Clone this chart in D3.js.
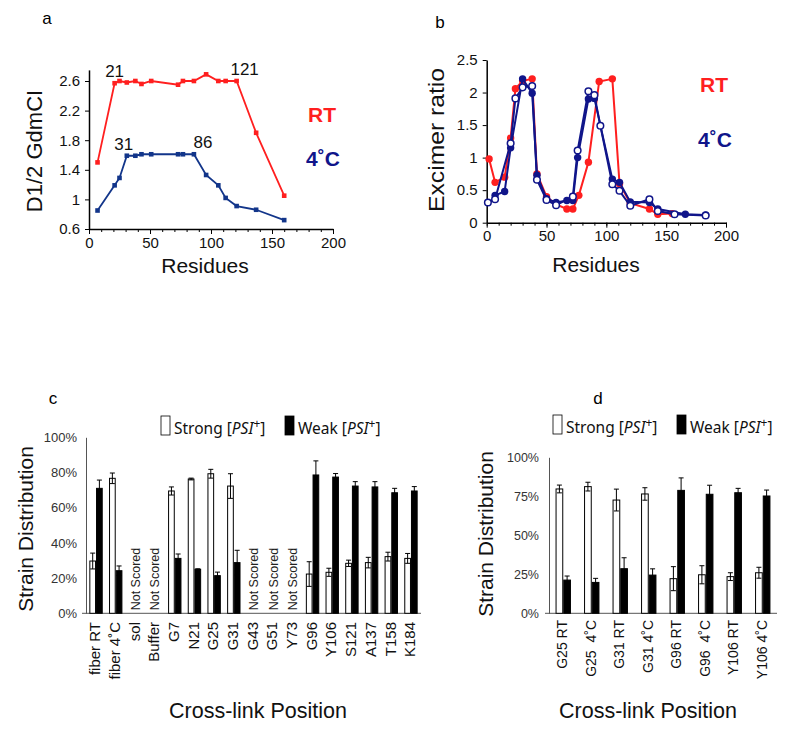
<!DOCTYPE html>
<html><head><meta charset="utf-8">
<script src="https://cdn.jsdelivr.net/npm/d3@7"></script>
<style>
body{margin:0;background:#fff;}
text{font-family:"Liberation Sans",Arial,sans-serif;}
</style></head>
<body><svg id="c" width="800" height="737"></svg>
<script>
// ---------- data ----------
// panel a
const residuesA = [7,21,25,31,38,43,51,73,77,86,96,106,112,121,137,160];
const rtA       = [1.5,2.57,2.6,2.58,2.6,2.56,2.6,2.55,2.6,2.6,2.69,2.6,2.6,2.6,1.9,1.05];
const coldA     = [0.85,1.19,1.29,1.59,1.59,1.61,1.61,1.61,1.61,1.61,1.33,1.19,1.02,0.91,0.86,0.72];
const ticksAy   = [0.6,1,1.4,1.8,2.2,2.6];
const annotA    = [{res:21,val:2.57,label:"21"},{res:121,val:2.6,label:"121"},{res:31,val:1.59,label:"31"},{res:86,val:1.61,label:"86"}];
// panel b
const rtBx     = [2,7,15,20,24,30,38,42,50,58,67,72,77,85,94,105,111,120,136,143,155];
const rtBy     = [0.98,0.62,0.70,1.30,2.06,2.18,2.21,0.75,0.40,0.28,0.21,0.21,0.42,0.93,2.17,2.21,0.60,0.30,0.21,0.13,0.14];
const filledBx = [7,15,20,30,38,42,50,58,67,72,76,85,90,105,111,120,136,143,166,183];
const filledBy = [0.42,0.48,1.15,2.21,1.99,0.73,0.37,0.31,0.34,0.34,1.0,1.90,1.91,0.67,0.62,0.32,0.31,0.21,0.13,0.12];
const openBx   = [1,7,20,24,30,38,42,50,58,72,76,85,90,95,105,111,120,136,143,157,183];
const openBy   = [0.31,0.36,1.22,1.91,2.08,2.10,0.66,0.35,0.27,0.40,1.11,2.02,1.96,1.49,0.59,0.49,0.26,0.36,0.18,0.13,0.11];
const ticksBy  = [0,0.5,1,1.5,2,2.5];
const ticksX   = [0,50,100,150,200];
// panel c
const catsC      = ["fiber RT","fiber 4˚C","sol","Buffer","G7","N21","G25","G31","G43","G51","Y73","G96","Y106","S121","A137","T158","K184"];
const strongC    = [29.7,76.7,null,null,69.5,76.3,79.3,72.3,null,null,null,22.3,23.3,28.4,28.8,32.2,31.2];
const strongErrC = [4.5,3,null,null,2.3,0.5,2.5,7,null,null,null,7,2.3,1.8,3,2.5,2.8];
const weakC      = [71,24.2,null,null,31.2,25,21.4,28.8,null,null,null,78.6,77.4,72.3,71.8,68.5,69.5];
const weakErrC   = [4.7,2.7,null,null,2.5,0.3,2,7,null,null,null,8,2,2.5,3,2.5,2.5];
const ticksC     = [0,20,40,60,80,100];
// panel d
const catsD      = ["G25 RT","G25  4˚C","G31 RT","G31 4˚C","G96 RT","G96  4˚C","Y106 RT","Y106 4˚C"];
const strongD    = [79.7,81.2,72.6,76.5,22.2,24.7,23.5,26];
const strongErrD = [2.5,2.8,7,4,7.7,5.8,2.5,3.5];
const weakD      = [21.3,19.8,28.6,24.5,78.8,76.3,77.3,75.2];
const weakErrD   = [2.6,2.6,7,4,8,5.8,2.8,3.8];
const ticksD     = [0,25,50,75,100];

// ---------- drawing ----------
const svg = d3.select("#c");
const RED = "#ff1f1f", NAVY_A = "#12358a", NAVY = "#10158a";

function lineAxes(xs, ys, yTicks){
  const xr = xs.range(), yr = ys.range();
  const g = svg.append("g");
  g.append("g").attr("transform",`translate(0,${yr[0]})`)
    .call(d3.axisBottom(xs).tickValues(d3.range(0,201,10)).tickSize(3).tickFormat(""))
    .call(a=>a.select(".domain").remove()).selectAll("line").attr("stroke","#000");
  const xa = g.append("g").attr("transform",`translate(0,${yr[0]})`)
    .call(d3.axisBottom(xs).tickValues(ticksX).tickSize(5).tickSizeOuter(0).tickPadding(3));
  xa.selectAll("text").attr("font-size",15).attr("fill","#111");
  const ya = g.append("g").attr("transform",`translate(${xr[0]},0)`)
    .call(d3.axisLeft(ys).tickValues(yTicks).tickSize(4).tickSizeOuter(0).tickFormat(d=>String(d)).tickPadding(5));
  ya.selectAll("text").attr("font-size",15).attr("fill","#111");
  g.selectAll(".domain").attr("stroke","#000").attr("stroke-width",1.5);
  g.selectAll(".tick line").attr("stroke","#000");
}

// ---- panel a ----
const xa = d3.scaleLinear().domain([0,200]).range([89,333]);
const ya = d3.scaleLinear().domain([0.6,2.75]).range([229,69.9]);
lineAxes(xa, ya, ticksAy);
const lnA = d3.line().x(d=>xa(d[0])).y(d=>ya(d[1]));
const ptsRtA = residuesA.map((r,i)=>[r,rtA[i]]);
const ptsColdA = residuesA.map((r,i)=>[r,coldA[i]]);
[[ptsRtA,RED],[ptsColdA,NAVY_A]].forEach(([pts,col])=>{
  svg.append("path").attr("d",lnA(pts)).attr("fill","none").attr("stroke",col).attr("stroke-width",1.8);
  svg.append("g").selectAll("rect").data(pts).join("rect")
    .attr("x",d=>xa(d[0])-2.3).attr("y",d=>ya(d[1])-2.3).attr("width",4.6).attr("height",4.6).attr("fill",col);
});
const annDx = {"21":0,"121":8,"31":-3,"86":9};
svg.append("g").selectAll("text").data(annotA).join("text")
  .attr("x",d=>xa(d.res)+annDx[d.label]).attr("y",d=>ya(d.val)-6)
  .attr("text-anchor","middle").attr("font-size",17).attr("fill","#111").text(d=>d.label);
svg.append("text").attr("x",47).attr("y",24).attr("text-anchor","middle").attr("font-size",17).text("a");
svg.append("text").attr("transform","translate(42,151) rotate(-90)").attr("text-anchor","middle")
  .attr("font-size",22).attr("fill","#111").text("D1/2 GdmCI");
svg.append("text").attr("x",205).attr("y",273).attr("text-anchor","middle").attr("font-size",21).attr("fill","#111").text("Residues");
svg.append("text").attr("x",308).attr("y",122).attr("font-size",21).attr("font-weight","bold").attr("fill",RED).text("RT");
svg.append("text").attr("x",306).attr("y",166).attr("font-size",21).attr("font-weight","bold").attr("fill",NAVY).text("4˚C");

// ---- panel b ----
const xb = d3.scaleLinear().domain([0,200]).range([486.7,726]);
const yb = d3.scaleLinear().domain([0,2.5]).range([222.7,60]);
lineAxes(xb, yb, ticksBy);
const lnB = d3.line().x(d=>xb(d[0])).y(d=>yb(d[1]));
const ptsRtB = rtBx.map((x,i)=>[x,rtBy[i]]);
const ptsFB = filledBx.map((x,i)=>[x,filledBy[i]]);
const ptsOB = openBx.map((x,i)=>[x,openBy[i]]);
svg.append("path").attr("d",lnB(ptsRtB)).attr("fill","none").attr("stroke",RED).attr("stroke-width",2);
svg.append("g").selectAll("circle").data(ptsRtB).join("circle")
  .attr("cx",d=>xb(d[0])).attr("cy",d=>yb(d[1])).attr("r",3.7).attr("fill",RED);
svg.append("path").attr("d",lnB(ptsFB)).attr("fill","none").attr("stroke",NAVY).attr("stroke-width",2);
svg.append("path").attr("d",lnB(ptsOB)).attr("fill","none").attr("stroke",NAVY).attr("stroke-width",2);
svg.append("g").selectAll("circle").data(ptsFB).join("circle")
  .attr("cx",d=>xb(d[0])).attr("cy",d=>yb(d[1])).attr("r",3.7).attr("fill",NAVY);
svg.append("g").selectAll("circle").data(ptsOB).join("circle")
  .attr("cx",d=>xb(d[0])).attr("cy",d=>yb(d[1])).attr("r",3.3).attr("fill","#fff").attr("stroke",NAVY).attr("stroke-width",1.5);
svg.append("text").attr("x",440).attr("y",28).attr("text-anchor","middle").attr("font-size",17).text("b");
svg.append("text").attr("transform","translate(444,140) rotate(-90)").attr("text-anchor","middle")
  .attr("font-size",22).attr("textLength",144).attr("lengthAdjust","spacingAndGlyphs").attr("fill","#111").text("Excimer ratio");
svg.append("text").attr("x",596).attr("y",272).attr("text-anchor","middle").attr("font-size",21).attr("fill","#111").text("Residues");
svg.append("text").attr("x",700).attr("y",92).attr("font-size",21).attr("font-weight","bold").attr("fill",RED).text("RT");
svg.append("text").attr("x",698).attr("y",147).attr("font-size",21).attr("font-weight","bold").attr("fill",NAVY).text("4˚C");

// ---- bar panels ----
function barPanel(o){
  const x = d3.scaleBand().domain(o.cats).range(o.xr).paddingInner(o.pin).paddingOuter(o.pout);
  const sub = d3.scaleBand().domain(["s","w"]).range([0,x.bandwidth()]);
  const y = d3.scaleLinear().domain([0,100]).range(o.yr);
  const g = svg.append("g");
  const ya = g.append("g").attr("transform",`translate(${o.xr[0]},0)`)
    .call(d3.axisLeft(y).tickValues(o.ticks).tickSize(0).tickPadding(o.tpad).tickFormat(d=>d+"%"));
  ya.selectAll("text").attr("font-size",o.tfs).attr("fill","#333");
  ya.select(".domain").attr("stroke","#555");
  g.append("line").attr("x1",o.xr[0]-4).attr("x2",o.xr[0]).attr("y1",y(0)).attr("y2",y(0)).attr("stroke","#555");
  g.append("line").attr("x1",o.xr[0]).attr("x2",o.xr[1]).attr("y1",y(0)).attr("y2",y(0)).attr("stroke","#555");
  const xa = g.append("g").attr("transform",`translate(0,${o.xlabY})`)
    .call(d3.axisBottom(x).tickSize(0).tickPadding(0));
  xa.select(".domain").remove();
  xa.selectAll("text").attr("font-size",o.xfs).attr("fill","#111")
    .attr("transform","translate(-1,0) rotate(-90)").attr("text-anchor","end").attr("dy","0.35em").attr("x",0).attr("y",0)
    .style("white-space","pre");
  const recs = o.cats.map((c,i)=>({c, s:o.strong[i], se:o.strongErr[i], w:o.weak[i], we:o.weakErr[i]}));
  const scored = recs.filter(r=>r.s!==null);
  const bars = [];
  scored.forEach(r=>{ bars.push({c:r.c,k:"s",v:r.s,e:r.se}); bars.push({c:r.c,k:"w",v:r.w,e:r.we}); });
  g.append("g").selectAll("rect").data(bars).join("rect")
    .attr("x",d=>x(d.c)+sub(d.k)+0.5).attr("y",d=>y(d.v)).attr("width",sub.bandwidth()-1)
    .attr("height",d=>y(0)-y(d.v))
    .attr("fill",d=>d.k==="s"?"#fff":"#000").attr("stroke","#000").attr("stroke-width",1);
  const eb = g.append("g").selectAll("g").data(bars).join("g")
    .attr("transform",d=>`translate(${x(d.c)+sub(d.k)+sub.bandwidth()/2},0)`);
  eb.append("line").attr("y1",d=>y(d.v-d.e)).attr("y2",d=>y(d.v+d.e)).attr("stroke","#000");
  eb.append("line").attr("x1",-2.5).attr("x2",2.5).attr("y1",d=>y(d.v+d.e)).attr("y2",d=>y(d.v+d.e)).attr("stroke","#000");
  eb.append("line").attr("x1",-2.5).attr("x2",2.5).attr("y1",d=>y(d.v-d.e)).attr("y2",d=>y(d.v-d.e)).attr("stroke","#000");
  g.append("g").selectAll("text").data(recs.filter(r=>r.s===null)).join("text")
    .attr("transform",d=>`translate(${x(d.c)+x.bandwidth()/2},${y(0)-3}) rotate(-90)`)
    .attr("dy","0.35em").attr("font-size",12.5).attr("fill","#222").text("Not Scored");
  const L = o.legend;
  [["Strong",L.x1,"#fff"],["Weak",L.x2,"#000"]].forEach(([lab,lx,fill])=>{
    g.append("rect").attr("x",lx).attr("y",L.y-18).attr("width",9).attr("height",19)
      .attr("fill",fill).attr("stroke","#000").attr("stroke-width",0.8);
    const t = g.append("text").attr("x",lx+13).attr("y",L.y).attr("font-size",15.5)
      .style("font-family","'Noto Sans',sans-serif").attr("fill","#111");
    t.append("tspan").text(lab+" [");
    t.append("tspan").attr("font-style","italic").text("PSI");
    t.append("tspan").attr("font-size",12).attr("dy",-6).text("+");
    t.append("tspan").attr("dy",6).text("]");
  });
  svg.append("text").attr("transform",`translate(${o.ytx},${o.yty}) rotate(-90)`).attr("text-anchor","middle")
    .attr("font-size",21).attr("fill","#111").text("Strain Distribution");
  svg.append("text").attr("x",o.xtx).attr("y",718).attr("text-anchor","middle")
    .attr("font-size",21.5).attr("fill","#111").text("Cross-link Position");
  svg.append("text").attr("x",o.px).attr("y",404).attr("text-anchor","middle").attr("font-size",17).text(o.panel);
}

barPanel({cats:catsC,strong:strongC,strongErr:strongErrC,weak:weakC,weakErr:weakErrC,ticks:ticksC,
  xr:[86,421],yr:[613.3,437.3],pin:0.32,pout:0.17,tpad:9,tfs:13,xfs:15,xlabY:622,
  legend:{x1:161,x2:285,y:434},ytx:33,yty:529,xtx:258,px:53,panel:"c"});
barPanel({cats:catsD,strong:strongD,strongErr:strongErrD,weak:weakD,weakErr:weakErrD,ticks:ticksD,
  xr:[549,777],yr:[613.3,457.3],pin:0.46,pout:0.23,tpad:10,tfs:12.5,xfs:14,xlabY:620,
  legend:{x1:553,x2:677,y:433},ytx:493,yty:534,xtx:648,px:598,panel:"d"});
</script></body></html>
